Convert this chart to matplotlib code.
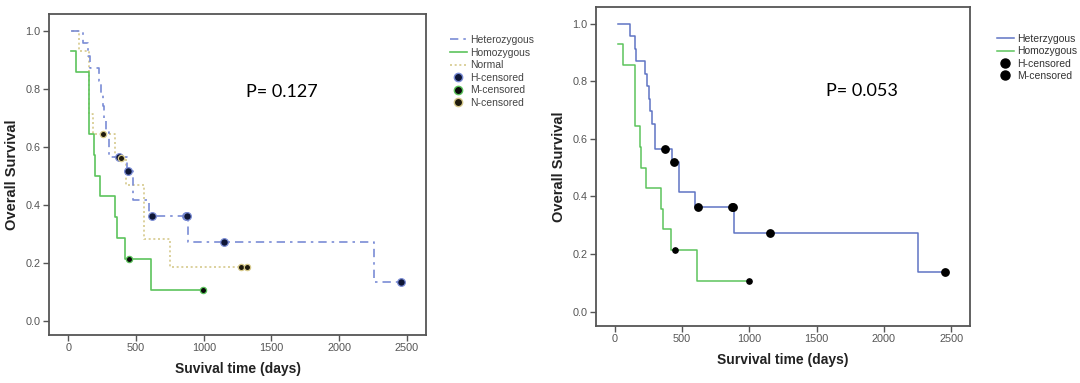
import matplotlib
matplotlib.use("Agg")
import matplotlib.pyplot as plt
from matplotlib.lines import Line2D

plt.rcParams['font.family'] = ['Liberation Sans', 'DejaVu Sans']

# --- data (days, survival) ---
het_t = [22, 111, 148, 159, 223, 240, 257, 265, 277, 302, 430, 480, 599, 883, 2255, 2456]
het_s = [1.0, 0.957, 0.913, 0.870, 0.826, 0.783, 0.739, 0.696, 0.652, 0.565, 0.518, 0.415, 0.363, 0.272, 0.136, 0.136]
het_cens_t = [376, 438, 619, 870, 880, 1153, 2456]
het_cens_s = [0.565, 0.518, 0.363, 0.363, 0.363, 0.272, 0.136]

hom_t = [22, 60, 150, 186, 196, 235, 342, 358, 416, 610, 995]
hom_s = [0.929, 0.857, 0.643, 0.571, 0.500, 0.429, 0.357, 0.286, 0.214, 0.107, 0.107]
hom_cens_t = [449, 995]
hom_cens_s = [0.214, 0.107]

nor_t = [25, 81, 155, 185, 345, 424, 559, 751, 1322]
nor_s = [1.0, 0.929, 0.714, 0.643, 0.5625, 0.469, 0.281, 0.1875, 0.1875]
nor_cens_t = [255, 389, 1276, 1322]
nor_cens_s = [0.643, 0.5625, 0.1875, 0.1875]

p_left = "P= 0.127"
p_right = "P= 0.053"

W, H = 1080, 383
fig = plt.figure(figsize=(W / 100, H / 100), dpi=100)


def px_axes(x0, y0, x1, y1):
    # pixel box (left, top, right, bottom) -> figure fraction
    return fig.add_axes([x0 / W, 1 - y1 / H, (x1 - x0) / W, (y1 - y0) / H])


def style_axes(ax, xlim, ylim, xlabel):
    ax.set_xlim(*xlim)
    ax.set_ylim(*ylim)
    ax.set_xticks([0, 500, 1000, 1500, 2000, 2500])
    ax.set_yticks([0.0, 0.2, 0.4, 0.6, 0.8, 1.0])
    ax.set_yticklabels(["0.0", "0.2", "0.4", "0.6", "0.8", "1.0"])
    for s in ax.spines.values():
        s.set_color('#555555')
        s.set_linewidth(1.3)
    ax.tick_params(direction='out', length=4, width=1, color='#555555',
                   labelsize=7.8, labelcolor='#555555', pad=2)
    ax.set_xlabel(xlabel, fontsize=10, fontweight='bold', color='#222222', labelpad=6)
    ax.set_ylabel("Overall Survival", fontsize=10.5, fontweight='bold', color='#222222', labelpad=5)


# ---------------- left panel ----------------
ax1 = px_axes(49, 14, 426, 335)
style_axes(ax1, (-143, 2642), (-0.048, 1.057), "Suvival time (days)")

blue_l = '#7a8cd6'
green = '#5cc45c'
tan = '#d6c98c'
ax1.step(nor_t, nor_s, where='post', color=tan, lw=1.2, ls=(0, (1.2, 1.6)))
ax1.step(het_t, het_s, where='post', color=blue_l, lw=1.2, ls=(0, (5, 3, 1.5, 3)))
ax1.step(hom_t, hom_s, where='post', color=green, lw=1.2)
ax1.plot(het_cens_t, het_cens_s, 'o', ms=5.5, mfc='#0e1636', mec=blue_l, mew=0.9, ls='none')
ax1.plot(hom_cens_t, hom_cens_s, 'o', ms=4.5, mfc='#0a0a0a', mec=green, mew=0.9, ls='none')
ax1.plot(nor_cens_t, nor_cens_s, 'o', ms=4.5, mfc='#1e1a0c', mec=tan, mew=0.9, ls='none')
ax1.text(1310, 0.79, p_left, fontsize=13, family=['Lato', 'DejaVu Sans'], va='center', ha='left')

h1 = [Line2D([], [], color=blue_l, lw=1.2, ls=(0, (5, 3, 1.5, 3))),
      Line2D([], [], color=green, lw=1.2),
      Line2D([], [], color=tan, lw=1.2, ls=(0, (1.2, 1.6))),
      Line2D([], [], marker='o', ls='none', ms=6, mfc='#0e1636', mec=blue_l),
      Line2D([], [], marker='o', ls='none', ms=6, mfc='#0a0a0a', mec=green),
      Line2D([], [], marker='o', ls='none', ms=6, mfc='#1e1a0c', mec=tan)]
fig.legend(h1, ["Heterozygous", "Homozygous", "Normal", "H-censored", "M-censored", "N-censored"],
           loc='upper left', bbox_to_anchor=(450 / W, 1 - 35 / H), frameon=False,
           fontsize=7.5, handlelength=1.6, handletextpad=0.3, labelspacing=0.25,
           borderpad=0, borderaxespad=0, labelcolor='#444444')

# ---------------- right panel ----------------
ax2 = px_axes(596, 7, 970, 326)
style_axes(ax2, (-138, 2639), (-0.05, 1.058), "Survival time (days)")

blue_r = '#5f74c4'
ax2.step(het_t, het_s, where='post', color=blue_r, lw=1.1)
ax2.step(hom_t, hom_s, where='post', color=green, lw=1.1)
ax2.plot(het_cens_t, het_cens_s, 'o', ms=5.3, color='black', ls='none')
ax2.plot(hom_cens_t, hom_cens_s, 'o', ms=3.8, color='black', ls='none')
ax2.text(1568, 0.767, p_right, fontsize=13, family=['Lato', 'DejaVu Sans'], va='center', ha='left')

h2 = [Line2D([], [], color=blue_r, lw=1.1),
      Line2D([], [], color=green, lw=1.1),
      Line2D([], [], marker='o', ls='none', ms=6.5, color='black'),
      Line2D([], [], marker='o', ls='none', ms=6.5, color='black')]
fig.legend(h2, ["Heterzygous", "Homozygous", "H-censored", "M-censored"],
           loc='upper left', bbox_to_anchor=(997 / W, 1 - 34 / H), frameon=False,
           fontsize=7.5, handlelength=1.6, handletextpad=0.3, labelspacing=0.22,
           borderpad=0, borderaxespad=0, labelcolor='#333333')

fig.savefig("out.png", dpi=100)
